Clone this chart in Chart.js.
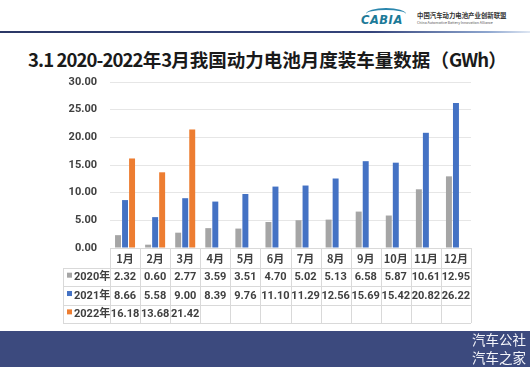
<!DOCTYPE html>
<html><head><meta charset="utf-8">
<script src="https://cdn.jsdelivr.net/npm/chart.js@4"></script>
<style>
html,body{margin:0;padding:0;background:#fff;}
#wrap{position:relative;width:530px;height:367px;overflow:hidden;background:#fff;font-family:"Noto Sans CJK SC","Noto Sans",sans-serif;}
#c{position:absolute;left:0;top:0;}
.title{position:absolute;left:28px;top:46px;font-size:19.2px;line-height:26px;font-weight:bold;color:#1a1a1a;white-space:nowrap;}
.title .l{letter-spacing:-0.9px;}
.hline{position:absolute;left:0;top:31px;width:530px;height:2px;background:linear-gradient(to right,#2b3866 0%,#34437a 70%,#8ea6cf 92%,#dfe7f3 100%);}
.logo{position:absolute;left:361px;top:13px;font-family:"DejaVu Sans",sans-serif;font-style:italic;font-weight:bold;font-size:11.5px;color:#1c7a98;letter-spacing:0.5px;}
.arc{position:absolute;left:366px;top:8px;width:40px;height:10px;border-top:2px solid #2a86ad;border-radius:50% 50% 0 0;}
.cn{position:absolute;left:417px;top:11px;font-size:6.4px;font-weight:bold;color:#333;white-space:nowrap;}
.en{position:absolute;left:417px;top:20px;font-size:3.6px;color:#555;white-space:nowrap;}
.band{position:absolute;left:0;top:331px;width:530px;height:36px;background:#3c4a7e;}
.wm{position:absolute;right:4px;color:#f4f5fa;font-size:13.5px;font-family:"Noto Sans CJK SC",sans-serif;white-space:nowrap;}
</style></head>
<body><div id="wrap">
<div class="hline"></div>
<div class="arc"></div>
<div class="logo">CABIA</div>
<div class="cn">中国汽车动力电池产业创新联盟</div>
<div class="en">China Automotive Battery Innovation Alliance</div>
<div class="title" id="title"><span class="l">3.1 2020-2022</span>年<span class="l">3</span>月我国动力电池月度装车量数据（<span class="l">GWh</span>）</div>
<canvas id="c" width="530" height="367"></canvas>
<div class="band"></div>
<div class="wm" style="top:329px">汽车公社</div>
<div class="wm" style="top:347px">汽车之家</div>
</div>
<script>
const months = ['1月','2月','3月','4月','5月','6月','7月','8月','9月','10月','11月','12月'];
const seriesNames = ['2020年','2021年','2022年'];
const data2020 = [2.32,0.60,2.77,3.59,3.51,4.70,5.02,5.13,6.58,5.87,10.61,12.95];
const data2021 = [8.66,5.58,9.00,8.39,9.76,11.10,11.29,12.56,15.69,15.42,20.82,26.22];
const data2022 = [16.18,13.68,21.42,null,null,null,null,null,null,null,null,null];
const yTicks = [0,5,10,15,20,25,30];
const colors = ['#a5a5a5','#4472c4','#ed7d31'];

// fit title to the reference width
(function(){
  const t = document.getElementById('title');
  const w = t.getBoundingClientRect().width;
  const target = 479;
  const fs = 19.2 * target / w;
  t.style.fontSize = fs.toFixed(2) + 'px';
})();

const FONT = '"Noto Sans CJK SC","Noto Sans",sans-serif';
const NUMFONT = 'Roboto,"Noto Sans CJK SC",sans-serif';
const txtColor = '#404040';
const lineColor = '#d9d9d9';

const tablePlugin = {
  id:'tablePlugin',
  afterDraw(chart){
    const ctx = chart.ctx;
    const xs = chart.scales.x;
    const area = chart.chartArea;
    const x0 = 63;
    const top = area.bottom;
    const headBottom = top + 20;
    const rowH = 18.35;
    const rows = [data2020,data2021,data2022];
    const bottom = headBottom + rowH*3;
    const cw = xs.width / months.length;
    ctx.save();
    ctx.strokeStyle = lineColor;
    ctx.lineWidth = 1;
    ctx.beginPath();
    for(let i=0;i<=months.length;i++){
      const x = Math.round(xs.getPixelForValue(0) - cw/2 + i*cw)+0.5;
      ctx.moveTo(x, top); ctx.lineTo(x, bottom);
    }
    ctx.moveTo(x0+0.5, headBottom); ctx.lineTo(x0+0.5, bottom);
    for(let r=0;r<=3;r++){
      const y = Math.round(headBottom + r*rowH)+0.5;
      ctx.moveTo(x0, y); ctx.lineTo(xs.right, y);
    }
    ctx.stroke();
    ctx.font = 'bold 11px '+NUMFONT;
    ctx.textBaseline = 'middle';
    for(let r=0;r<3;r++){
      const cy = headBottom + r*rowH + rowH/2 + 0.5;
      ctx.fillStyle = colors[r];
      ctx.fillRect(67, cy-5, 5, 5);
      ctx.fillStyle = txtColor;
      ctx.textAlign = 'left';
      ctx.fillText(seriesNames[r], 74, cy);
      ctx.textAlign = 'center';
      rows[r].forEach((v,i)=>{
        if(v===null) return;
        ctx.fillText(v.toFixed(2), xs.getPixelForValue(i), cy);
      });
    }
    ctx.restore();
  }
};

new Chart(document.getElementById('c'), {
  type:'bar',
  data:{
    labels: months,
    datasets:[
      {label:seriesNames[0], data:data2020, backgroundColor:colors[0]},
      {label:seriesNames[1], data:data2021, backgroundColor:colors[1]},
      {label:seriesNames[2], data:data2022, backgroundColor:colors[2]}
    ]
  },
  options:{
    responsive:false,
    devicePixelRatio:1,
    animation:false,
    layout:{padding:{top:82,right:59,bottom:99,left:0}},
    plugins:{legend:{display:false},tooltip:{enabled:false}},
    datasets:{bar:{categoryPercentage:0.7,barPercentage:0.85}},
    scales:{
      x:{
        grid:{display:false,drawTicks:false},
        border:{display:true,color:lineColor},
        ticks:{color:txtColor,font:{family:FONT,size:11,weight:'bold'},padding:4,maxRotation:0,autoSkip:false},
        afterFit(s){ s.height = 20; }
      },
      y:{
        min:0,max:30,
        grid:{color:'#e6e6e6',drawTicks:false},
        border:{display:false},
        ticks:{stepSize:5,color:txtColor,font:{family:NUMFONT,size:11,weight:'bold'},padding:13,
          callback:(v)=> yTicks.includes(v) ? v.toFixed(2) : ''},
        afterFit(s){ s.width = 110; }
      }
    }
  },
  plugins:[tablePlugin]
});
</script>
</body></html>
